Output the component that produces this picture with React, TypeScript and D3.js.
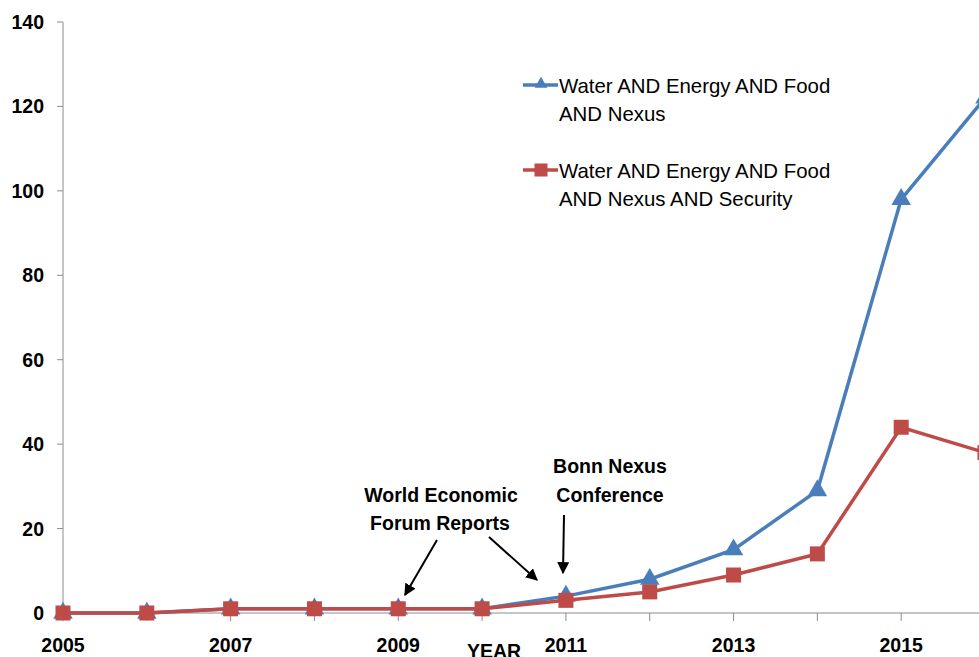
import React from "react";
import * as d3 from "d3";

const years = [2005, 2006, 2007, 2008, 2009, 2010, 2011, 2012, 2013, 2014, 2015, 2016];
const nexusCounts = [0, 0, 1, 1, 1, 1, 4, 8, 15, 29, 98, 122];
const securityCounts = [0, 0, 1, 1, 1, 1, 3, 5, 9, 14, 44, 38];
const yTicks = [0, 20, 40, 60, 80, 100, 120, 140];
const xTickLabels = [2005, 2007, 2009, 2011, 2013, 2015];
const seriesNames = [
  ["Water AND Energy AND Food", "AND Nexus"],
  ["Water AND Energy AND Food", "AND Nexus AND Security"],
];

const W = 979;
const H = 657;
const BLUE = "#4a7ebb";
const RED = "#be4b48";
const AXIS = "#8c8c8c";
const FONT = "'Liberation Sans', Arial, sans-serif";

export default function App() {
  const x = d3.scaleLinear().domain([2005, 2016]).range([63, 985]);
  const y = d3.scaleLinear().domain([0, 140]).range([613, 22]);

  const line = d3
    .line<number>()
    .x((_, i) => x(years[i]))
    .y((d) => y(d));

  const tri = d3.symbol(d3.symbolTriangle, 165)() || "";
  const legendTri = d3.symbol(d3.symbolTriangle, 70)() || "";
  const sq = 15;
  const legendSq = 13;

  return (
    <svg
      width={W}
      height={H}
      style={{ position: "absolute", left: 0, top: 0, background: "#fff" }}
      fontFamily={FONT}
    >
      <defs>
        <marker
          id="arrowhead"
          viewBox="0 0 10 10"
          refX="9"
          refY="5"
          markerWidth="6"
          markerHeight="6"
          orient="auto"
        >
          <path d="M0,0 L10,5 L0,10 z" fill="#000" />
        </marker>
      </defs>

      {/* y axis */}
      <line x1={x(2005)} x2={x(2005)} y1={y(140)} y2={y(0)} stroke={AXIS} strokeWidth={1} />
      {yTicks.map((t) => (
        <g key={t}>
          <line x1={x(2005) - 6} x2={x(2005)} y1={y(t)} y2={y(t)} stroke={AXIS} />
          <text
            x={44}
            y={y(t)}
            textAnchor="end"
            dominantBaseline="central"
            fontSize={19.5}
            fontWeight="bold"
            fill="#000"
          >
            {t}
          </text>
        </g>
      ))}

      {/* x axis */}
      <line x1={x(2005)} x2={W} y1={y(0)} y2={y(0)} stroke={AXIS} strokeWidth={1} />
      {years.map((yr) => (
        <line key={yr} x1={x(yr)} x2={x(yr)} y1={y(0)} y2={y(0) + 8} stroke={AXIS} />
      ))}
      {xTickLabels.map((yr) => (
        <text
          key={yr}
          x={x(yr)}
          y={652}
          textAnchor="middle"
          fontSize={19.5}
          fontWeight="bold"
          fill="#000"
        >
          {yr}
        </text>
      ))}
      <text x={494} y={658} textAnchor="middle" fontSize={19.5} fontWeight="bold" fill="#000">
        YEAR
      </text>

      {/* series */}
      <g>
        <path d={line(nexusCounts) || ""} fill="none" stroke={BLUE} strokeWidth={3.5} />
        {nexusCounts.map((v, i) => (
          <path key={i} d={tri} transform={`translate(${x(years[i])},${y(v)})`} fill={BLUE} />
        ))}
        <path d={line(securityCounts) || ""} fill="none" stroke={RED} strokeWidth={3.5} />
        {securityCounts.map((v, i) => (
          <rect
            key={i}
            x={x(years[i]) - sq / 2}
            y={y(v) - sq / 2}
            width={sq}
            height={sq}
            fill={RED}
          />
        ))}
      </g>

      {/* legend */}
      <g>
        <line x1={523} x2={558} y1={85} y2={85} stroke={BLUE} strokeWidth={3.5} />
        <path d={legendTri} transform="translate(541,84)" fill={BLUE} />
        <text x={559} y={93} fontSize={20.4} fill="#000">{seriesNames[0][0]}</text>
        <text x={559} y={121} fontSize={20.4} fill="#000">{seriesNames[0][1]}</text>

        <line x1={523} x2={558} y1={170} y2={170} stroke={RED} strokeWidth={3.5} />
        <rect x={541 - legendSq / 2} y={170 - legendSq / 2} width={legendSq} height={legendSq} fill={RED} />
        <text x={559} y={178} fontSize={20.4} fill="#000">{seriesNames[1][0]}</text>
        <text x={559} y={206} fontSize={20.4} fill="#000">{seriesNames[1][1]}</text>
      </g>

      {/* annotations */}
      <g fontSize={19.5} fontWeight="bold" fill="#000" textAnchor="middle">
        <text x={441} y={502}>World Economic</text>
        <text x={440} y={530}>Forum Reports</text>
        <text x={610} y={473}>Bonn Nexus</text>
        <text x={610} y={502}>Conference</text>
      </g>
      <g stroke="#000" strokeWidth={2} markerEnd="url(#arrowhead)">
        <line x1={437} y1={540} x2={405} y2={595} />
        <line x1={489} y1={537} x2={537} y2={580} />
        <line x1={564} y1={515} x2={563} y2={573} />
      </g>
    </svg>
  );
}
